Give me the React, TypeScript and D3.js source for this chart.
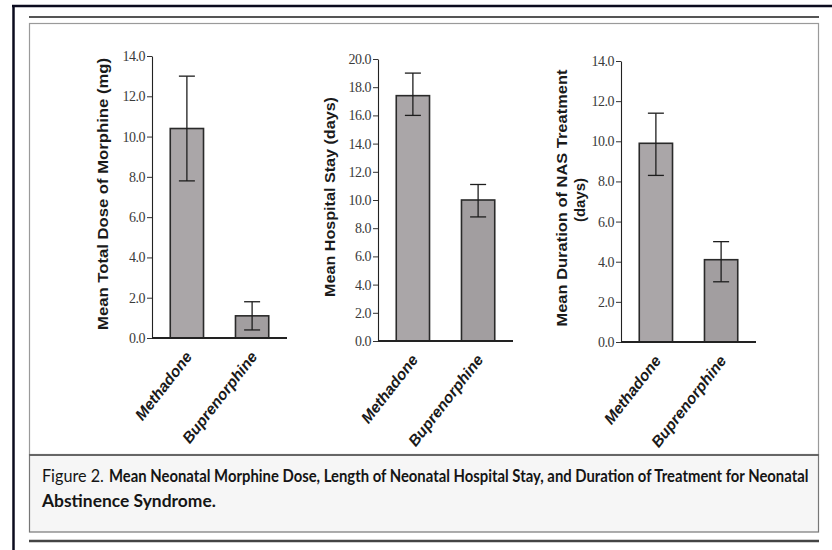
import React, { useRef, useEffect } from 'react';
import * as d3 from 'd3';

/* ── Data ───────────────────────────────────────────────────── */
const categories = ['Methadone', 'Buprenorphine'];

const morphineMean = [10.4, 1.1];
const morphineLow = [7.8, 0.4];
const morphineHigh = [13.0, 1.8];

const stayMean = [17.4, 10.0];
const stayLow = [16.0, 8.8];
const stayHigh = [19.0, 11.1];

const nasMean = [9.9, 4.1];
const nasLow = [8.3, 3.0];
const nasHigh = [11.4, 5.0];

const morphineTicks = [0, 2, 4, 6, 8, 10, 12, 14];
const stayTicks = [0, 2, 4, 6, 8, 10, 12, 14, 16, 18, 20];
const nasTicks = [0, 2, 4, 6, 8, 10, 12, 14];

const captionLead = 'Figure 2.';
const captionBold1 =
  'Mean Neonatal Morphine Dose, Length of Neonatal Hospital Stay, and Duration of Treatment for Neonatal';
const captionBold2 = 'Abstinence Syndrome.';

interface Panel {
  title: string[];
  mean: number[];
  low: number[];
  high: number[];
  ticks: number[];
  // layout
  axisX: number;
  yTop: number;
  yBottom: number;
  labelX: number[];
  labelY: number[];
  labelLen: number[];
}

const panels: Panel[] = [
  {
    title: ['Mean Total Dose of Morphine (mg)'],
    mean: morphineMean,
    low: morphineLow,
    high: morphineHigh,
    ticks: morphineTicks,
    axisX: 152,
    yTop: 56,
    yBottom: 338,
    labelX: [102],
    labelY: [194],
    labelLen: [272]
  },
  {
    title: ['Mean Hospital Stay (days)'],
    mean: stayMean,
    low: stayLow,
    high: stayHigh,
    ticks: stayTicks,
    axisX: 378,
    yTop: 59,
    yBottom: 341,
    labelX: [329],
    labelY: [197],
    labelLen: [200]
  },
  {
    title: ['Mean Duration of NAS Treatment', '(days)'],
    mean: nasMean,
    low: nasLow,
    high: nasHigh,
    ticks: nasTicks,
    axisX: 621,
    yTop: 61,
    yBottom: 342,
    labelX: [561, 579],
    labelY: [198, 200],
    labelLen: [257, 44]
  }
];

const W = 832;
const H = 550;

export default function App() {
  const ref = useRef<SVGSVGElement | null>(null);

  useEffect(() => {
    if (!ref.current) return;
    const svg = d3.select(ref.current);
    svg.selectAll('*').remove();

    svg.append('rect').attr('width', W).attr('height', H).attr('fill', '#fff');

    /* ── page frame & rules ─────────────────────────────────── */
    svg.append('line').attr('x1', 12).attr('x2', W).attr('y1', 6).attr('y2', 6)
      .attr('stroke', '#0b0b1e').attr('stroke-width', 2.5);
    svg.append('line').attr('x1', 13.5).attr('x2', 13.5).attr('y1', 5).attr('y2', H)
      .attr('stroke', '#0b0b1e').attr('stroke-width', 2.5);

    svg.append('line').attr('x1', 29).attr('x2', 819).attr('y1', 17).attr('y2', 17)
      .attr('stroke', '#555').attr('stroke-width', 2.2);

    // chart panel
    svg.append('rect').attr('x', 29.5).attr('y', 23.5).attr('width', 789).attr('height', 431)
      .attr('fill', 'none').attr('stroke', '#9a9a9a').attr('stroke-width', 1.2);

    // caption box
    svg.append('rect').attr('x', 29.5).attr('y', 455).attr('width', 789).attr('height', 77)
      .attr('fill', '#f6f6f6').attr('stroke', '#777').attr('stroke-width', 1.2);
    svg.append('line').attr('x1', 29).attr('x2', 819).attr('y1', 455).attr('y2', 455)
      .attr('stroke', '#666').attr('stroke-width', 2.2);
    svg.append('line').attr('x1', 29).attr('x2', 819).attr('y1', 541).attr('y2', 541)
      .attr('stroke', '#444').attr('stroke-width', 2.5);

    // caption: condensed to fit the measured widths
    const cap = svg.append('g')
      .attr('font-family', 'Lato, "Open Sans", sans-serif')
      .attr('font-size', 17)
      .attr('fill', '#151515');
    const fitText = (txt: string, x0: number, y0: number, w: number, bold: boolean) => {
      const t = cap.append('text').attr('font-weight', bold ? 'bold' : 'normal').text(txt);
      const natural = (t.node() as SVGTextElement).getComputedTextLength() || w;
      t.attr('transform', `translate(${x0},${y0}) scale(${w / natural},1)`);
    };
    fitText(captionLead, 42, 482, 62, false);
    fitText(captionBold1, 109, 482, 700, true);
    fitText(captionBold2, 42, 507, 174, true);

    /* ── the three bar panels ───────────────────────────────── */
    panels.forEach(p => {
      const maxV = p.ticks[p.ticks.length - 1];
      const y = d3.scaleLinear().domain([0, maxV]).range([p.yBottom, p.yTop]);
      const x = d3.scaleBand<string>()
        .domain(categories)
        .range([p.axisX, p.axisX + 135])
        .paddingInner(0.49)
        .paddingOuter(0.28);

      const g = svg.append('g');

      // y axis
      const ya = g.append('g')
        .attr('transform', `translate(${p.axisX},0)`)
        .call(
          d3.axisLeft(y)
            .tickValues(p.ticks)
            .tickSize(5)
            .tickPadding(2)
            .tickFormat(d3.format('.1f') as any)
            .tickSizeOuter(0)
        );
      ya.select('.domain').attr('stroke', '#222').attr('stroke-width', 1.1);
      ya.selectAll('.tick line').attr('stroke', '#333');
      ya.selectAll('.tick text')
        .attr('font-family', '"Liberation Serif", serif')
        .attr('font-size', 14)
        .attr('fill', '#3a3a3a')
        .attr('letter-spacing', -0.5);

      // bars
      g.selectAll('rect.bar')
        .data(categories)
        .enter()
        .append('rect')
        .attr('class', 'bar')
        .attr('x', d => x(d)!)
        .attr('width', x.bandwidth())
        .attr('y', (_, i) => y(p.mean[i]))
        .attr('height', (_, i) => p.yBottom - y(p.mean[i]))
        .attr('fill', (_, i) => (i === 0 ? '#aaa6a8' : '#a29ea0'))
        .attr('stroke', '#2a2a2a')
        .attr('stroke-width', 1.6);

      // error bars
      categories.forEach((c, i) => {
        const cx = x(c)! + x.bandwidth() / 2;
        const eg = g.append('g').attr('stroke', '#1e1e1e').attr('stroke-width', 1.3);
        eg.append('line').attr('x1', cx).attr('x2', cx)
          .attr('y1', y(p.high[i])).attr('y2', y(p.low[i]));
        eg.append('line').attr('x1', cx - 8).attr('x2', cx + 8)
          .attr('y1', y(p.high[i])).attr('y2', y(p.high[i]));
        eg.append('line').attr('x1', cx - 8).attr('x2', cx + 8)
          .attr('y1', y(p.low[i])).attr('y2', y(p.low[i]));
      });

      // x axis baseline
      g.append('line')
        .attr('x1', p.axisX).attr('x2', p.axisX + 135)
        .attr('y1', y(0)).attr('y2', y(0))
        .attr('stroke', '#222').attr('stroke-width', 2);

      // category labels
      categories.forEach(c => {
        const cx = x(c)! + x.bandwidth() / 2;
        g.append('text')
          .attr('transform', `translate(${cx + 6},${p.yBottom + 19}) rotate(-52)`)
          .attr('text-anchor', 'end')
          .attr('font-family', '"Liberation Sans", Arial, sans-serif')
          .attr('font-style', 'italic')
          .attr('font-weight', 'bold')
          .attr('font-size', 15.5)
          .attr('fill', '#1a1a1a')
          .text(c);
      });

      // y title
      p.title.forEach((t, k) => {
        g.append('text')
          .attr('transform', `translate(${p.labelX[k]},${p.labelY[k]}) rotate(-90)`)
          .attr('text-anchor', 'middle')
          .attr('dominant-baseline', 'central')
          .attr('font-family', '"Liberation Sans", Arial, sans-serif')
          .attr('font-weight', 'bold')
          .attr('font-size', 15)
          .attr('fill', '#1a1a1a')
          .attr('textLength', p.labelLen[k])
          .attr('lengthAdjust', 'spacingAndGlyphs')
          .text(t);
      });
    });
  }, []);

  return (
    <svg
      ref={ref}
      width={W}
      height={H}
      style={{ position: 'absolute', left: 0, top: 0, display: 'block' }}
    />
  );
}
